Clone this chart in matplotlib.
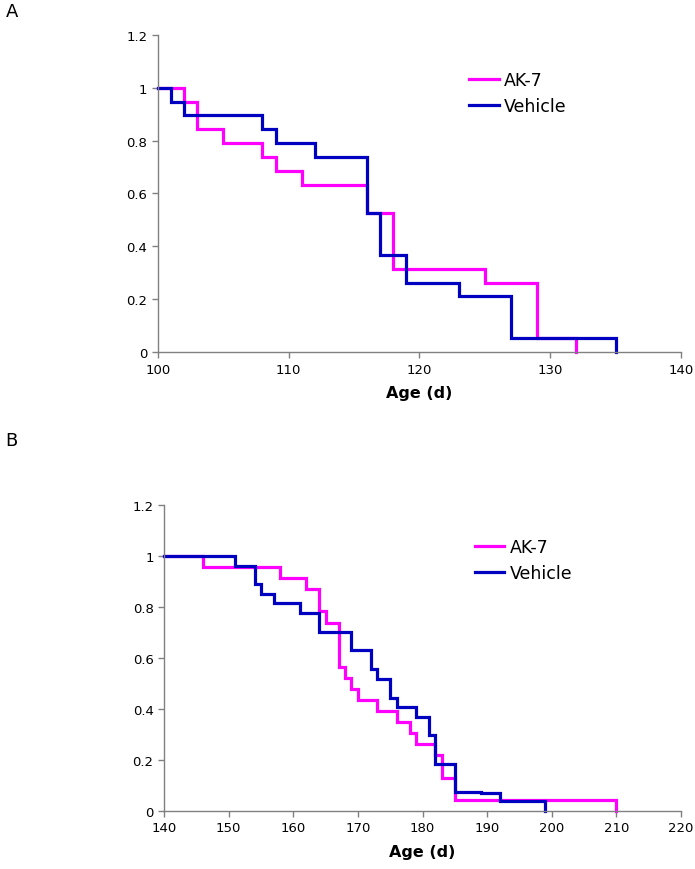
import numpy as np
import matplotlib
matplotlib.use('Agg')
import matplotlib.pyplot as plt

# panel A: survival (fraction alive) against age in days
a_ak7_days = [100, 102, 103, 105, 108, 109, 111, 116, 118, 125, 129, 132]
a_ak7_surv = [1.0, 0.947, 0.842, 0.789, 0.737, 0.684, 0.632, 0.526, 0.316, 0.263, 0.053, 0.0]
a_veh_days = [100, 101, 102, 108, 109, 112, 116, 117, 119, 123, 127, 135]
a_veh_surv = [1.0, 0.947, 0.895, 0.842, 0.789, 0.737, 0.526, 0.368, 0.263, 0.211, 0.053, 0.0]

# panel B
b_ak7_days = [140, 146, 158, 162, 164, 165, 167, 168, 169, 170, 173, 176, 178, 179, 182, 183, 185, 210]
b_ak7_surv = [1.0, 0.957, 0.913, 0.870, 0.783, 0.739, 0.565, 0.522, 0.478, 0.435, 0.391, 0.348,
              0.304, 0.261, 0.217, 0.130, 0.043, 0.0]
b_veh_days = [140, 151, 154, 155, 157, 161, 164, 169, 172, 173, 175, 176, 179, 181, 182, 185, 189, 192, 199]
b_veh_surv = [1.0, 0.963, 0.889, 0.852, 0.815, 0.778, 0.704, 0.630, 0.556, 0.519, 0.444, 0.407,
              0.370, 0.296, 0.185, 0.074, 0.069, 0.037, 0.0]

y_ticks = [0, 0.2, 0.4, 0.6, 0.8, 1.0, 1.2]
y_labels = ['0', '0.2', '0.4', '0.6', '0.8', '1', '1.2']
a_xticks = [100, 110, 120, 130, 140]
b_xticks = [140, 150, 160, 170, 180, 190, 200, 210, 220]

MAGENTA = '#ff00ff'
BLUE = '#0000c0'
GRAY = '#808080'

fig = plt.figure(figsize=(6.95, 8.70), dpi=100)
axA = fig.add_axes([0.227, 0.594, 0.753, 0.365])
axB = fig.add_axes([0.236, 0.067, 0.744, 0.351])


def style(ax, xticks):
    ax.set_ylim(0, 1.2)
    ax.set_xlim(xticks[0], xticks[-1])
    ax.set_yticks(y_ticks)
    ax.set_yticklabels(y_labels)
    ax.set_xticks(xticks)
    ax.spines['top'].set_visible(False)
    ax.spines['right'].set_visible(False)
    for s in ('left', 'bottom'):
        ax.spines[s].set_color(GRAY)
        ax.spines[s].set_linewidth(1.0)
    ax.tick_params(direction='out', length=4, width=1, color=GRAY,
                   labelsize=9.5, labelcolor='black')
    ax.set_xlabel('Age (d)', fontsize=11.5, fontweight='bold', labelpad=7)


for ax, ak_d, ak_s, v_d, v_s, xt in [
        (axA, a_ak7_days, a_ak7_surv, a_veh_days, a_veh_surv, a_xticks),
        (axB, b_ak7_days, b_ak7_surv, b_veh_days, b_veh_surv, b_xticks)]:
    ax.step(ak_d, ak_s, where='post', color=MAGENTA, lw=2.3, label='AK-7',
            solid_joinstyle='miter', clip_on=False)
    ax.step(v_d, v_s, where='post', color=BLUE, lw=2.3, label='Vehicle',
            solid_joinstyle='miter', clip_on=False)
    style(ax, xt)

legA = axA.legend(loc='upper left', bbox_to_anchor=(0.675, 0.917), bbox_transform=fig.transFigure,
                  frameon=False, fontsize=12.5, handlelength=1.7, handletextpad=0.3,
                  labelspacing=0.45, borderpad=0, borderaxespad=0)
legB = axB.legend(loc='upper left', bbox_to_anchor=(0.683, 0.380), bbox_transform=fig.transFigure,
                  frameon=False, fontsize=12.5, handlelength=1.7, handletextpad=0.3,
                  labelspacing=0.45, borderpad=0, borderaxespad=0)

fig.text(0.008, 0.996, 'A', fontsize=13, va='top', ha='left')
fig.text(0.008, 0.503, 'B', fontsize=13, va='top', ha='left')

fig.savefig('out.png', dpi=100)
